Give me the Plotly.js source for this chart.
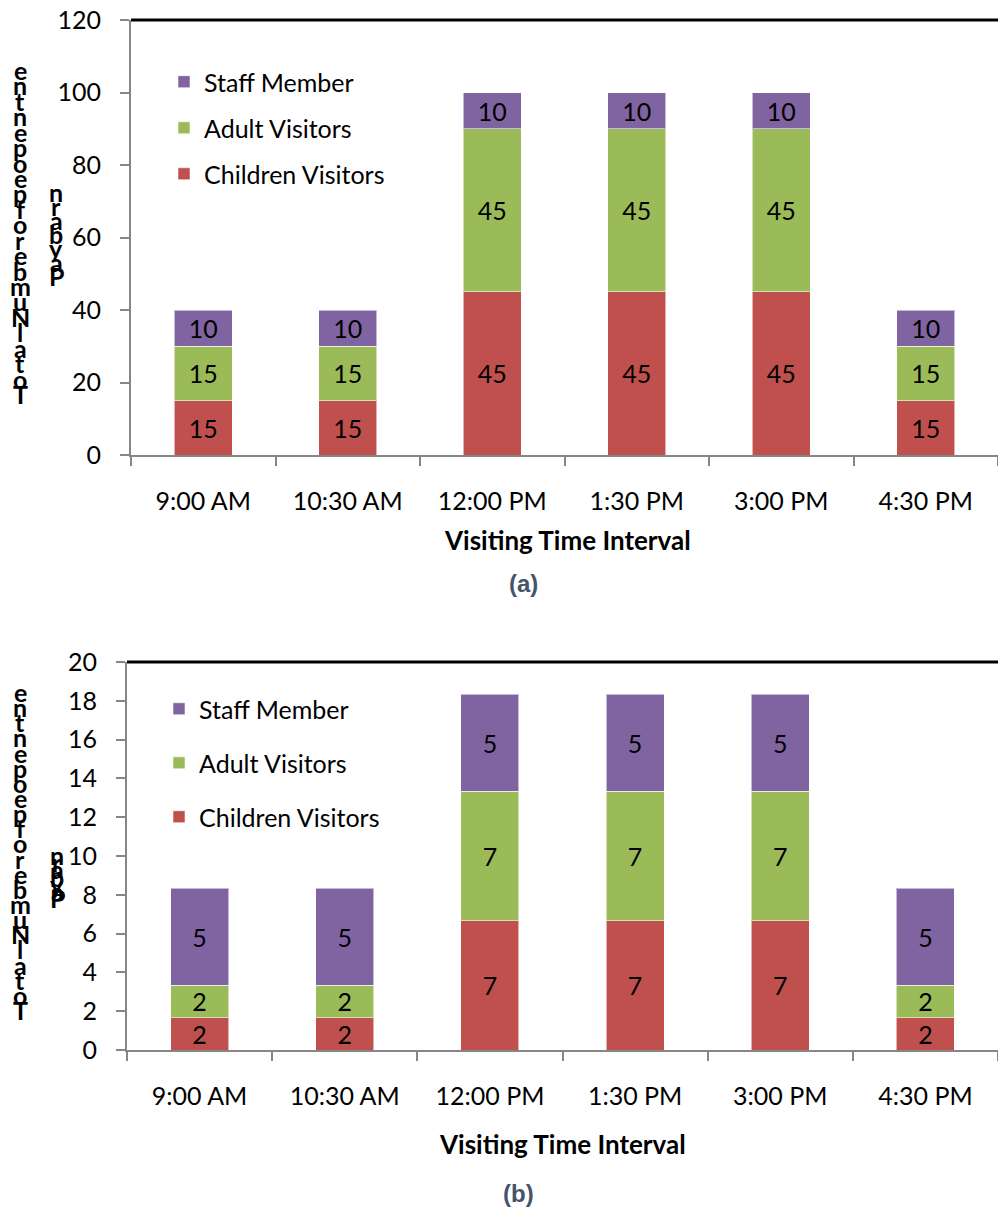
<!DOCTYPE html>
<html>
<head>
<meta charset="utf-8">
<script src="https://cdn.plot.ly/plotly-3.0.1.min.js"></script>
<style>html,body{margin:0;padding:0;background:#fff;}#chart{width:998px;height:1214px;}</style>
</head>
<body>
<div id="chart"></div>
<script>
// ---- data ----
const categories = ['9:00 AM', '10:30 AM', '12:00 PM', '1:30 PM', '3:00 PM', '4:30 PM'];
const seriesNames = ['Children Visitors', 'Adult Visitors', 'Staff Member'];
const aChildren = [15, 15, 45, 45, 45, 15];
const aAdult    = [15, 15, 45, 45, 45, 15];
const aStaff    = [10, 10, 10, 10, 10, 10];
const bChildren = [1.67, 1.67, 6.67, 6.67, 6.67, 1.67];
const bAdult    = [1.67, 1.67, 6.67, 6.67, 6.67, 1.67];
const bStaff    = [5, 5, 5, 5, 5, 5];
const xTitle = 'Visiting Time Interval';
const captions = ['(a)', '(b)'];
const yTitleCol1 = ['e','n','t','n','e','p','o','e','p','f','o','r','e','b','m','u','N','l','a','t','o','T'];
const yTitleCol2 = ['n','r','a','b','y','a','P'];

// ---- style ----
const colors = ['#C0504D', '#9BBB59', '#8064A2'];
const FONT = 'Lato, "Open Sans", sans-serif';
const W = 998, H = 1214;
const px = x => x / W;
const py = y => 1 - y / H;

const seriesA = [aChildren, aAdult, aStaff];
const seriesB = [bChildren, bAdult, bStaff];

const traces = [];
function addSet(vals, xa, ya, legendName) {
  vals.forEach((v, i) => {
    traces.push({
      type: 'bar', x: categories, y: v, name: seriesNames[i],
      xaxis: xa, yaxis: ya, legend: legendName, legendgroup: legendName + i,
      legendrank: 10 - i,
      marker: {color: colors[i], line: {color: 'rgba(255,255,255,0.55)', width: 1}},
      texttemplate: '%{y:.0f}', textposition: 'inside', insidetextanchor: 'middle',
      textangle: 0, constraintext: 'none',
      textfont: {family: FONT, size: 25, color: '#000'},
      hoverinfo: 'skip'
    });
  });
}
addSet(seriesA, 'x', 'y', 'legend');
addSet(seriesB, 'x2', 'y2', 'legend2');

const axisLine = '#868686';
function xAxis(domain, anchor) {
  return {domain: domain, anchor: anchor, type: 'category', showline: true, linecolor: axisLine, linewidth: 2,
    ticks: 'outside', tickson: 'boundaries', ticklen: 9, tickwidth: 2, tickcolor: axisLine,
    tickfont: {family: FONT, size: 25, color: '#000'}, ticklabelstandoff: 23,
    showgrid: false, zeroline: false, fixedrange: true};
}
function yAxis(domain, anchor, range, dtick) {
  return {domain: domain, anchor: anchor, range: range, dtick: dtick, showline: true, linecolor: axisLine, linewidth: 2,
    ticks: 'outside', ticklen: 9, tickwidth: 2, tickcolor: axisLine,
    tickfont: {family: FONT, size: 25, color: '#000'}, ticklabelstandoff: 14,
    showgrid: false, zeroline: false, fixedrange: true};
}

const annotations = [];
function addText(t, x, y, font) {
  annotations.push({text: t, xref: 'paper', yref: 'paper', x: px(x), y: py(y), xanchor: 'center', yanchor: 'middle',
    showarrow: false, font: font});
}
addText(xTitle, 567, 540, {family: FONT, size: 26, color: '#000', weight: 'bold'});
addText(xTitle, 562, 1144, {family: FONT, size: 26, color: '#000', weight: 'bold'});
addText(captions[0], 523, 583, {family: 'Arial, "Liberation Sans", sans-serif', size: 24, color: '#44546A', weight: 'bold'});
addText(captions[1], 518, 1193, {family: 'Arial, "Liberation Sans", sans-serif', size: 24, color: '#44546A', weight: 'bold'});

function addStack(letters, x, yTop, yBot) {
  const step = (yBot - yTop) / (letters.length - 1);
  letters.forEach((ch, i) => addText(ch, x, yTop + i * step, {family: FONT, size: 25, color: '#000', weight: 'bold'}));
}
addStack(yTitleCol1, 20, 70, 394);
addStack(yTitleCol2, 56, 192, 276);
addStack(yTitleCol1, 20, 692, 1010);
addStack(yTitleCol2, 57, 855, 898);

const layout = {
  width: W, height: H, margin: {l: 0, r: 0, t: 0, b: 0},
  paper_bgcolor: '#fff', plot_bgcolor: '#fff',
  barmode: 'stack', bargap: 0.6,
  font: {family: FONT, color: '#000'},
  xaxis: xAxis([px(131), 1], 'y'),
  yaxis: yAxis([py(455), py(20)], 'x', [0, 120], 20),
  xaxis2: xAxis([px(127), 1], 'y2'),
  yaxis2: yAxis([py(1050), py(662)], 'x2', [0, 20], 2),
  legend: {x: px(164), y: py(59), xanchor: 'left', yanchor: 'top', traceorder: 'grouped', tracegroupgap: 10.5,
    font: {family: FONT, size: 25, color: '#000'}, bgcolor: 'rgba(0,0,0,0)'},
  legend2: {x: px(159), y: py(686), xanchor: 'left', yanchor: 'top', traceorder: 'grouped', tracegroupgap: 18.5,
    font: {family: FONT, size: 25, color: '#000'}, bgcolor: 'rgba(0,0,0,0)'},
  showlegend: true,
  shapes: [
    {type: 'line', xref: 'x domain', yref: 'y domain', x0: 0, x1: 1, y0: 1, y1: 1, line: {color: '#000', width: 3}},
    {type: 'line', xref: 'x2 domain', yref: 'y2 domain', x0: 0, x1: 1, y0: 1, y1: 1, line: {color: '#000', width: 3}}
  ],
  annotations: annotations
};

Plotly.newPlot('chart', traces, layout, {staticPlot: true, displayModeBar: false});
</script>
</body>
</html>
